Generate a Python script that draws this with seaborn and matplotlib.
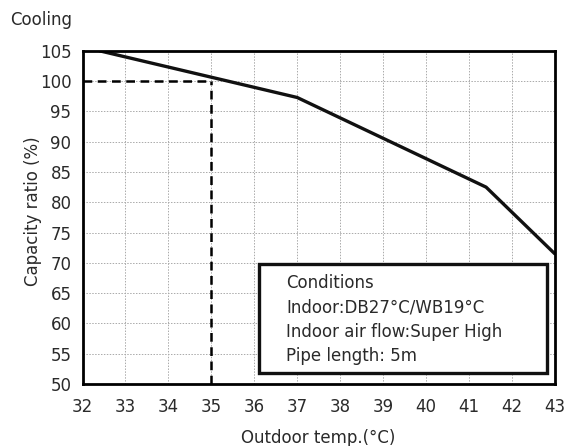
import matplotlib
matplotlib.use("Agg")
import matplotlib.pyplot as plt
import seaborn as sns
import pandas as pd
from matplotlib.patches import Rectangle

temps = [32.4, 37.0, 41.4, 43.0]
capacity = [105.0, 97.3, 82.5, 71.5]
x_ticks = list(range(32, 44))
y_ticks = list(range(50, 106, 5))
ref_temp = 35
ref_cap = 100
conditions = ["Conditions", "Indoor:DB27°C/WB19°C", "Indoor air flow:Super High", "Pipe length: 5m"]

sns.set_theme(style="white")
plt.rcParams['font.family'] = ['DejaVu Sans']

txt = "#2a2a2a"
fig = plt.figure(figsize=(5.69, 4.46), dpi=100)
ax = fig.add_axes([0.145, 0.139, 0.830, 0.747])

df = pd.DataFrame({"temp": temps, "cap": capacity})
sns.lineplot(data=df, x="temp", y="cap", ax=ax, color="#111111", linewidth=2.4)

ax.plot([32, ref_temp], [ref_cap, ref_cap], color="black", linestyle=(0, (3.5, 2.2)), linewidth=1.8)
ax.plot([ref_temp, ref_temp], [50, ref_cap], color="black", linestyle=(0, (3.5, 2.2)), linewidth=1.8)

ax.set_xlim(32, 43)
ax.set_ylim(50, 105)
ax.set_xticks(x_ticks)
ax.set_yticks(y_ticks)
ax.grid(True, color="#aaaaaa", linestyle=(0, (1.5, 1.5)), linewidth=0.7)
ax.tick_params(axis="both", length=0, labelsize=12, labelcolor=txt)
ax.tick_params(axis="y", pad=8)
ax.tick_params(axis="x", pad=10)
for s in ax.spines.values():
    s.set_color("black")
    s.set_linewidth(2.0)

ax.set_xlabel("Outdoor temp.(°C)", fontsize=12, color=txt)
ax.set_ylabel("Capacity ratio (%)", fontsize=12, color=txt)
ax.xaxis.set_label_coords(0.5, -0.135)
ax.yaxis.set_label_coords(-0.086, 0.52)

rect = Rectangle((36.12, 51.8), 42.81 - 36.12, 69.8 - 51.8, facecolor="white",
                 edgecolor="#111111", linewidth=2.4, zorder=5)
ax.add_patch(rect)
for i, line in enumerate(conditions):
    ax.text(36.74, 66.6 - i * 3.97, line, fontsize=12, va="center", ha="left", zorder=6, color=txt)

fig.text(10 / 569, 1 - 20 / 446, "Cooling", fontsize=12, va="center", ha="left", color=txt)

fig.savefig("out.png", dpi=100)
